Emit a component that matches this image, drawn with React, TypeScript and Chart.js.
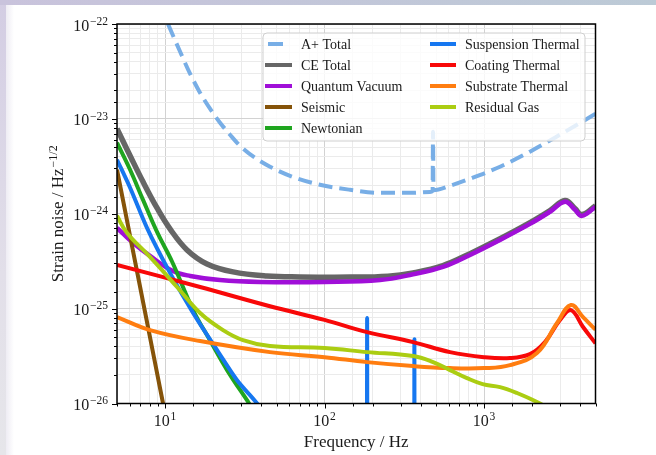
import React, { useEffect, useRef } from "react";
import { Chart, registerables } from "chart.js";

Chart.register(...registerables);

// ---- noise budget data: frequency (Hz) and amplitude spectral density (1/sqrt(Hz)) ----
const aplusFreq = [9.3, 10.44, 12.42, 14.35, 16.57, 19.15, 22.13, 25.56, 29.53, 36.67, 45.53, 60.76, 93.7, 144.5, 222.8, 343.6, 458.6, 476, 479, 482, 612, 817, 1260, 1941, 2994, 5000];
const aplusAsd = [1.6e-22, 1.0e-22, 5.13e-23, 3.0e-23, 1.89e-23, 1.28e-23, 9.12e-24, 6.81e-24, 5.21e-24, 3.89e-24, 3.13e-24, 2.51e-24, 2.02e-24, 1.79e-24, 1.66e-24, 1.66e-24, 1.7e-24, 1.74e-24, 7.32e-24, 1.77e-24, 1.97e-24, 2.34e-24, 3.13e-24, 4.51e-24, 6.81e-24, 1.13e-23];

const ceFreq = [5, 6.04, 7.28, 8.91, 10.75, 13.74, 18.34, 26.7, 43.5, 70, 145, 250, 359, 553, 817, 1260, 1941, 2592, 3221, 3720, 4110, 5000];
const ceAsd = [7.88e-24, 4.09e-24, 2.17e-24, 1.15e-24, 6.92e-25, 4.16e-25, 2.96e-25, 2.44e-25, 2.21e-25, 2.16e-25, 2.15e-25, 2.2e-25, 2.38e-25, 2.84e-25, 3.8e-25, 5.45e-25, 8.05e-25, 1.08e-24, 1.38e-24, 1.13e-24, 9.8e-25, 1.21e-24];

const quantumFreq = [5, 6.3, 8.05, 11.2, 14.4, 22.1, 39.4, 100, 223, 359, 553, 817, 1260, 1941, 2592, 3221, 3720, 4110, 5000];
const quantumAsd = [7.1e-25, 4.93e-25, 3.59e-25, 2.49e-25, 2.21e-25, 2.0e-25, 1.91e-25, 1.91e-25, 2.0e-25, 2.3e-25, 2.75e-25, 3.68e-25, 5.3e-25, 7.82e-25, 1.05e-24, 1.34e-24, 1.1e-24, 9.5e-25, 1.18e-24];

const seismicFreq = [5, 6, 7.5, 9.72, 11];
const seismicAsd = [2.91e-24, 6.15e-25, 9.16e-26, 1.0e-26, 3.5e-27];

const newtonianFreq = [5, 6.04, 7.28, 8.91, 11.1, 15.0, 19.1, 24.5, 33.7, 39.4];
const newtonianAsd = [5.61e-24, 2.91e-24, 1.4e-24, 6.44e-25, 3.1e-25, 9.66e-26, 4.66e-26, 2.25e-26, 1.0e-26, 6.7e-27];

const suspensionFreq = [5, 6.04, 7.71, 10.75, 15.0, 21.2, 28.3, 37.8, 45.5, 80, 184.4, 185, 185.6, 365.2, 366, 366.8, 1000, 5000];
const suspensionAsd = [3.71e-24, 1.88e-24, 7.1e-25, 2.38e-25, 8.99e-26, 3.66e-26, 1.76e-26, 1.0e-26, 6.3e-27, 2.5e-27, 1e-27, 7.96e-26, 1e-27, 1e-27, 4.77e-26, 1e-27, 3e-28, 1e-28];

const coatingFreq = [5, 16.6, 45.5, 100, 185, 359, 612, 1000, 1455, 1941, 2410, 2994, 3508, 4178, 5000];
const coatingAsd = [2.89e-25, 1.69e-25, 1.06e-25, 7.6e-26, 5.66e-26, 4.44e-26, 3.48e-26, 3.08e-26, 3.01e-26, 3.31e-26, 4.44e-26, 7.59e-26, 9.66e-26, 6.4e-26, 4.3e-26];

const substrateFreq = [5, 8.05, 16.6, 45.5, 100, 185, 359, 612, 1000, 1455, 2148, 2870, 3508, 4178, 5000];
const substrateAsd = [8.15e-26, 5.94e-26, 4.55e-26, 3.48e-26, 3.08e-26, 2.73e-26, 2.48e-26, 2.36e-26, 2.36e-26, 2.54e-26, 3.4e-26, 7.05e-26, 1.09e-25, 8.15e-26, 6.0e-26];

const gasFreq = [5, 5.78, 8.05, 11.9, 16.6, 23.1, 30.8, 45.5, 100, 185, 359, 479, 612, 782, 980, 1260, 1610, 2245, 2592];
const gasAsd = [9.5e-25, 6.28e-25, 3.51e-25, 1.69e-25, 8.99e-26, 5.94e-26, 4.66e-26, 4.03e-26, 3.84e-26, 3.48e-26, 3.16e-26, 2.73e-26, 2.25e-26, 1.85e-26, 1.6e-26, 1.49e-26, 1.29e-26, 1.0e-26, 8.5e-27];

const xDecades = [10, 100, 1000];
const yDecades = [-26, -25, -24, -23, -22];

const SERIF = '"Liberation Serif", "Times New Roman", "DejaVu Serif", serif';

type Series = { label: string; freq: number[]; asd: number[]; color: string; width: number; dash?: number[]; narrow?: boolean };

// "narrow" series carry sharp resonance lines and use a non-overshooting spline
const series: Series[] = [
  { label: "A+ Total", freq: aplusFreq, asd: aplusAsd, color: "#78aee6", width: 4, dash: [14, 7], narrow: true },
  { label: "CE Total", freq: ceFreq, asd: ceAsd, color: "#666666", width: 5.5 },
  { label: "Quantum Vacuum", freq: quantumFreq, asd: quantumAsd, color: "#a00fd8", width: 4.5 },
  { label: "Seismic", freq: seismicFreq, asd: seismicAsd, color: "#855309", width: 4 },
  { label: "Newtonian", freq: newtonianFreq, asd: newtonianAsd, color: "#1fa51f", width: 4 },
  { label: "Suspension Thermal", freq: suspensionFreq, asd: suspensionAsd, color: "#1677f0", width: 4, narrow: true },
  { label: "Coating Thermal", freq: coatingFreq, asd: coatingAsd, color: "#f80808", width: 4 },
  { label: "Substrate Thermal", freq: substrateFreq, asd: substrateAsd, color: "#ff7d10", width: 4 },
  { label: "Residual Gas", freq: gasFreq, asd: gasAsd, color: "#abcd12", width: 4 },
];

const isDecade = (v: number) => {
  const l = Math.log10(v);
  return Math.abs(l - Math.round(l)) < 1e-6;
};

const expText = (n: number) => (n < 0 ? "\u2212" + String(-n) : String(n));

// "10" followed by a raised exponent, as a log-axis label
function drawPower(ctx: CanvasRenderingContext2D, exp: string, x: number, baseline: number, align: "right" | "center", size: number) {
  const supSize = size * 0.72;
  ctx.font = `${size}px ${SERIF}`;
  const wBase = ctx.measureText("10").width;
  ctx.font = `${supSize}px ${SERIF}`;
  const wExp = ctx.measureText(exp).width;
  const total = wBase + 0.8 + wExp;
  const left = align === "right" ? x - total : x - total / 2;
  ctx.textAlign = "left";
  ctx.textBaseline = "alphabetic";
  ctx.font = `${size}px ${SERIF}`;
  ctx.fillText("10", left, baseline);
  ctx.font = `${supSize}px ${SERIF}`;
  ctx.fillText(exp, left + wBase + 0.8, baseline - size * 0.36);
}

const axesPlugin = {
  id: "axesAndLegend",
  afterDatasetsDraw(chart: any) {
    const { ctx, chartArea: a, scales } = chart;
    const xs = scales.x;
    const ys = scales.y;
    ctx.save();

    // tick marks, pointing outward
    ctx.strokeStyle = "#000";
    ctx.lineWidth = 1;
    ctx.beginPath();
    for (const t of ys.ticks) {
      const y = Math.round(ys.getPixelForValue(t.value)) + 0.5;
      const len = isDecade(t.value) ? 5 : 3;
      ctx.moveTo(a.left, y);
      ctx.lineTo(a.left - len, y);
    }
    for (const t of xs.ticks) {
      const x = Math.round(xs.getPixelForValue(t.value)) + 0.5;
      const len = isDecade(t.value) ? 5 : 3;
      ctx.moveTo(x, a.bottom);
      ctx.lineTo(x, a.bottom + len);
    }
    ctx.stroke();

    // axes frame
    ctx.lineWidth = 1.5;
    ctx.strokeRect(a.left, a.top, a.right - a.left, a.bottom - a.top);

    // tick labels
    ctx.fillStyle = "#1a1a1a";
    for (const e of yDecades) {
      const y = ys.getPixelForValue(Math.pow(10, e));
      drawPower(ctx, expText(e), a.left - 9, y + 6.5, "right", 16);
    }
    for (const v of xDecades) {
      const x = xs.getPixelForValue(v);
      drawPower(ctx, expText(Math.round(Math.log10(v))), x, a.bottom + 22.5, "center", 16);
    }

    // axis titles
    ctx.font = `17px ${SERIF}`;
    ctx.textAlign = "center";
    ctx.textBaseline = "alphabetic";
    ctx.fillText("Frequency / Hz", (a.left + a.right) / 2, 447);

    ctx.save();
    ctx.translate(63, (a.top + a.bottom) / 2);
    ctx.rotate(-Math.PI / 2);
    const main = "Strain noise / Hz";
    const sup = "\u22121/2";
    ctx.font = `17px ${SERIF}`;
    const wMain = ctx.measureText(main).width;
    ctx.font = `12px ${SERIF}`;
    const wSup = ctx.measureText(sup).width;
    const start = -(wMain + 1 + wSup) / 2;
    ctx.textAlign = "left";
    ctx.font = `17px ${SERIF}`;
    ctx.fillText(main, start, 0);
    ctx.font = `12px ${SERIF}`;
    ctx.fillText(sup, start + wMain + 1, -6.5);
    ctx.restore();

    // legend, two columns filled top to bottom
    const bx = 263, by = 33, bw = 322, bh = 108, r = 4;
    ctx.beginPath();
    ctx.moveTo(bx + r, by);
    ctx.lineTo(bx + bw - r, by);
    ctx.arcTo(bx + bw, by, bx + bw, by + r, r);
    ctx.lineTo(bx + bw, by + bh - r);
    ctx.arcTo(bx + bw, by + bh, bx + bw - r, by + bh, r);
    ctx.lineTo(bx + r, by + bh);
    ctx.arcTo(bx, by + bh, bx, by + bh - r, r);
    ctx.lineTo(bx, by + r);
    ctx.arcTo(bx, by, bx + r, by, r);
    ctx.closePath();
    ctx.fillStyle = "rgba(255,255,255,0.8)";
    ctx.fill();
    ctx.strokeStyle = "#cfcfcf";
    ctx.lineWidth = 1;
    ctx.stroke();

    const rows = 5;
    const cols = [
      { hx0: 265, hx1: 292, tx: 301 },
      { hx0: 430, hx1: 456, tx: 465 },
    ];
    chart.data.datasets.forEach((ds: any, i: number) => {
      const col = cols[Math.floor(i / rows)];
      const y = 44 + (i % rows) * 21;
      ctx.strokeStyle = ds.borderColor;
      ctx.lineWidth = 4;
      ctx.lineCap = "butt";
      ctx.setLineDash([]);
      ctx.beginPath();
      if (ds.borderDash && ds.borderDash.length) {
        ctx.moveTo(col.hx0 + 3, y);
        ctx.lineTo(col.hx0 + 18, y);
      } else {
        ctx.moveTo(col.hx0, y);
        ctx.lineTo(col.hx1, y);
      }
      ctx.stroke();
      ctx.fillStyle = "#1a1a1a";
      ctx.font = `14px ${SERIF}`;
      ctx.textAlign = "left";
      ctx.textBaseline = "middle";
      ctx.fillText(ds.label, col.tx, y + 1);
    });

    ctx.restore();
  },
};

export default function App() {
  const canvasRef = useRef<HTMLCanvasElement | null>(null);

  useEffect(() => {
    const canvas = canvasRef.current;
    if (!canvas) return;
    const gridColor = (c: any) => (c.tick && isDecade(c.tick.value) ? "#d2d2d2" : "#ebebeb");
    const chart = new Chart(canvas, {
      type: "line",
      data: {
        datasets: series.map((s, i) => ({
          label: s.label,
          data: s.freq.map((f, k) => ({ x: f, y: s.asd[k] })),
          borderColor: s.color,
          backgroundColor: s.color,
          borderWidth: s.width,
          borderDash: s.dash || [],
          borderJoinStyle: "round",
          borderCapStyle: "butt",
          pointRadius: 0,
          pointHoverRadius: 0,
          fill: false,
          cubicInterpolationMode: s.narrow ? "monotone" : "default",
          tension: s.narrow ? 0 : 0.4,
          clip: 0,
          order: series.length - i,
        })),
      },
      options: {
        responsive: false,
        maintainAspectRatio: false,
        devicePixelRatio: 1,
        animation: false,
        events: [],
        layout: { padding: { left: 0, right: 60.5, top: 24, bottom: 0 } },
        plugins: { legend: { display: false }, tooltip: { enabled: false } },
        scales: {
          x: {
            type: "logarithmic",
            position: "bottom",
            min: 5,
            max: 5000,
            border: { display: false },
            grid: { color: gridColor, lineWidth: 1, drawTicks: false },
            ticks: { display: false, autoSkip: false },
            afterFit: (s: any) => {
              s.height = 51.5;
            },
          },
          y: {
            type: "logarithmic",
            position: "left",
            min: 1e-26,
            max: 1e-22,
            border: { display: false },
            grid: { color: gridColor, lineWidth: 1, drawTicks: false },
            ticks: { display: false, autoSkip: false },
            afterFit: (s: any) => {
              s.width = 117;
            },
          },
        },
      } as any,
      plugins: [axesPlugin],
    });
    return () => chart.destroy();
  }, []);

  return (
    <div
      style={{
        position: "fixed",
        left: 0,
        top: 0,
        width: 656,
        height: 455,
        backgroundColor: "#ffffff",
        backgroundImage:
          "linear-gradient(to right, #c9c3dc, #bccad6), linear-gradient(to bottom, #d3cde3, #e2dfe9 60%, #e6e6ea), linear-gradient(to right, rgba(225,222,235,1), rgba(255,255,255,0))",
        backgroundSize: "100% 5px, 6px 100%, 14px 100%",
        backgroundRepeat: "no-repeat",
      }}
    >
      <canvas ref={canvasRef} width={656} height={455} style={{ display: "block" }} />
    </div>
  );
}
